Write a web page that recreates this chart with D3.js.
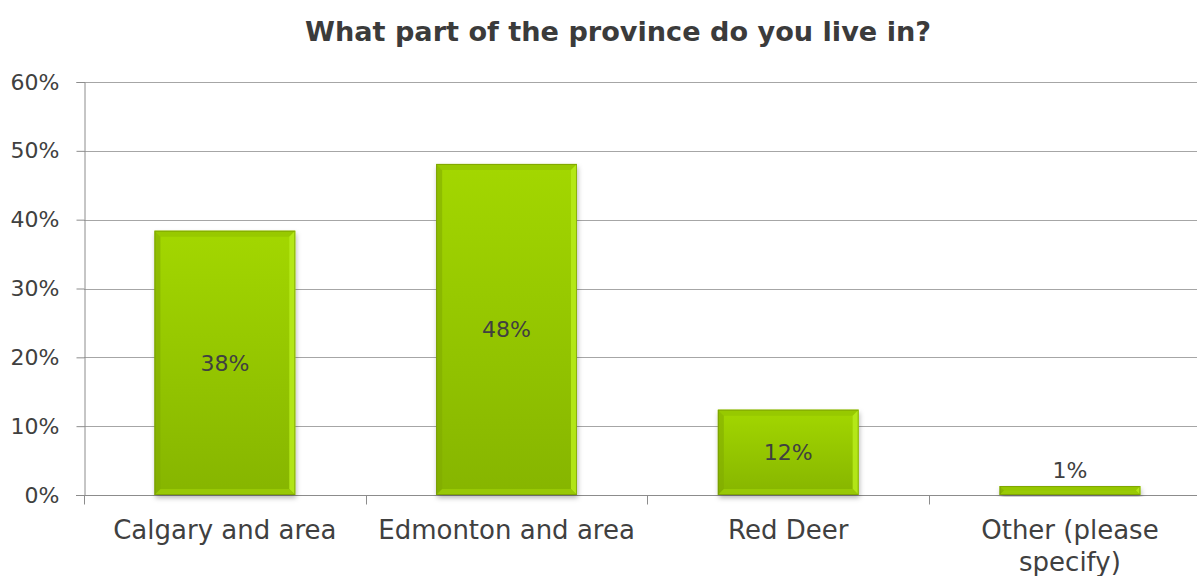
<!DOCTYPE html>
<html>
<head>
<meta charset="utf-8">
<script src="https://cdn.jsdelivr.net/npm/d3@7"></script>
<style>
  html, body { margin: 0; padding: 0; background: #fff; }
  svg { display: block; }
</style>
</head>
<body>
<svg id="chart" width="1197" height="576"></svg>
<script>
// Survey responses: region of residence
const categories = ["Calgary and area", "Edmonton and area", "Red Deer", "Other (please specify)"];
const categoryLines = [["Calgary and area"], ["Edmonton and area"], ["Red Deer"], ["Other (please", "specify)"]];
const shares = [0.384, 0.481, 0.124, 0.013];
const yTicks = [0, 0.1, 0.2, 0.3, 0.4, 0.5, 0.6];
const title = "What part of the province do you live in?";

const font = "'Century Gothic', 'URW Gothic', 'DejaVu Sans', sans-serif";
const svg = d3.select("#chart");
const W = 1197, H = 576;
const plotLeft = 84, plotTop = 82, plotBottom = 495;
const bandW = 281.7;

const x = d3.scaleBand().domain(categories)
  .range([plotLeft, plotLeft + bandW * categories.length])
  .paddingInner(0.5).paddingOuter(0.25);
const y = d3.scaleLinear().domain([0, 0.6]).range([plotBottom, plotTop]);

const defs = svg.append("defs");
const grad = defs.append("linearGradient").attr("id", "barFill")
  .attr("x1", 0).attr("y1", 0).attr("x2", 0).attr("y2", 1);
grad.append("stop").attr("offset", "0%").attr("stop-color", "#a3d700");
grad.append("stop").attr("offset", "100%").attr("stop-color", "#86b500");

const shadow = defs.append("filter").attr("id", "barShadow")
  .attr("x", "-10%").attr("y", "-10%").attr("width", "130%").attr("height", "130%");
shadow.append("feDropShadow").attr("dx", 1).attr("dy", 3).attr("stdDeviation", 2.5)
  .attr("flood-color", "#000").attr("flood-opacity", 0.28);

// Title
svg.append("text")
  .attr("x", 618).attr("y", 41)
  .attr("text-anchor", "middle")
  .attr("font-family", font).attr("font-weight", "bold")
  .attr("font-size", 26).attr("fill", "#3b3b3b")
  .attr("textLength", 626).attr("lengthAdjust", "spacingAndGlyphs")
  .text(title);

// Gridlines
svg.append("g").selectAll("line").data(yTicks.filter(d => d > 0)).join("line")
  .attr("x1", plotLeft).attr("x2", W)
  .attr("y1", d => Math.round(y(d)) + 0.5).attr("y2", d => Math.round(y(d)) + 0.5)
  .attr("stroke", "#a6a6a6").attr("stroke-width", 1);

// Y axis
const yAxis = svg.append("g").attr("transform", `translate(${plotLeft + 0.5},0)`)
  .call(d3.axisLeft(y).tickValues(yTicks).tickFormat(d3.format(".0%")).tickSize(8).tickPadding(17));
yAxis.select(".domain").attr("stroke", "#8c8c8c");
yAxis.selectAll(".tick line").attr("stroke", "#8c8c8c");
yAxis.selectAll(".tick text")
  .attr("font-family", font).attr("font-size", 22).attr("fill", "#404040");

// X axis
const xAxis = svg.append("g").attr("transform", `translate(0,${Math.round(plotBottom) + 0.5})`);
xAxis.append("line").attr("x1", plotLeft - 8).attr("x2", W).attr("stroke", "#8c8c8c");
const bounds = d3.range(categories.length + 1).map(i => plotLeft + i * bandW);
xAxis.selectAll("line.tk").data(bounds).join("line").attr("class", "tk")
  .attr("x1", d => Math.round(d) + 0.5).attr("x2", d => Math.round(d) + 0.5)
  .attr("y1", 0).attr("y2", 9).attr("stroke", "#8c8c8c");

// Bars
const bars = svg.append("g").selectAll("g").data(categories).join("g");
bars.each(function (c, i) {
  const g = d3.select(this);
  const x0 = x(c), w = x.bandwidth();
  const y0 = y(shares[i]), h = plotBottom - y0;
  g.append("rect").attr("x", x0).attr("y", y0).attr("width", w).attr("height", h)
    .attr("fill", "url(#barFill)").attr("filter", "url(#barShadow)");
  const b = Math.min(6, h / 2);
  // Bevel edges: lighter right, darker top/left/bottom
  g.append("polygon").attr("points", [[x0, y0], [x0 + w, y0], [x0 + w - b, y0 + b], [x0 + b, y0 + b]].join(" "))
    .attr("fill", "#95c600").attr("opacity", 0.8);
  g.append("polygon").attr("points", [[x0, y0], [x0 + b, y0 + b], [x0 + b, y0 + h - b], [x0, y0 + h]].join(" "))
    .attr("fill", "#7fa900").attr("opacity", 0.55);
  g.append("polygon").attr("points", [[x0 + w, y0], [x0 + w, y0 + h], [x0 + w - b, y0 + h - b], [x0 + w - b, y0 + b]].join(" "))
    .attr("fill", "#b6ea1a").attr("opacity", 0.9);
  g.append("polygon").attr("points", [[x0, y0 + h], [x0 + w, y0 + h], [x0 + w - b, y0 + h - b], [x0 + b, y0 + h - b]].join(" "))
    .attr("fill", "#9ccd06").attr("opacity", 0.8);
  g.append("rect").attr("x", x0 + 0.5).attr("y", y0 + 0.5).attr("width", w - 1).attr("height", h - 1)
    .attr("fill", "none").attr("stroke", "#6f8f00").attr("stroke-width", 1).attr("opacity", 0.6);
});

// Value labels
svg.append("g").selectAll("text").data(categories).join("text")
  .attr("x", c => x(c) + x.bandwidth() / 2)
  .attr("y", (c, i) => {
    const v = shares[i];
    const h = plotBottom - y(v);
    return h > 30 ? y(v / 2) + 8 : y(v) - 8;
  })
  .attr("text-anchor", "middle")
  .attr("font-family", font).attr("font-size", 22).attr("fill", "#404040")
  .text((c, i) => d3.format(".0%")(shares[i]));

// Category labels
const catText = svg.append("g").selectAll("text").data(categories).join("text")
  .attr("x", c => x(c) + x.bandwidth() / 2)
  .attr("y", 539)
  .attr("text-anchor", "middle")
  .attr("font-family", font).attr("font-size", 26).attr("fill", "#404040");
catText.selectAll("tspan").data((c, i) => categoryLines[i]).join("tspan")
  .attr("x", function () { return d3.select(this.parentNode).attr("x"); })
  .attr("dy", (d, j) => j === 0 ? 0 : 32)
  .text(d => d);
</script>
</body>
</html>
